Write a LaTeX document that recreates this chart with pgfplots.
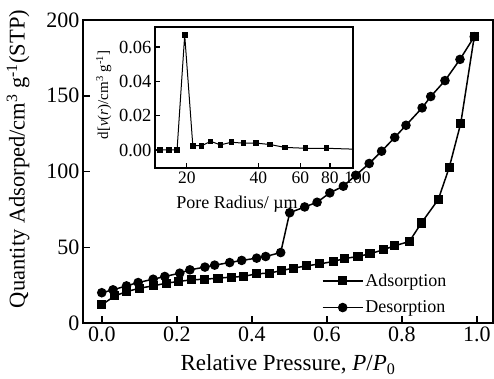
\documentclass[border=0pt]{standalone}
\usepackage{fontspec}
\setmainfont{Liberation Serif}
\usepackage{pgfplots}
\pgfplotsset{compat=1.18}
\usetikzlibrary{plotmarks}

\pgfplotstableread{
x y
0.0 12
0.035 17.9
0.066 20.7
0.101 23
0.137 24.5
0.172 26.3
0.204 27.4
0.239 28.5
0.275 28.9
0.31 29.6
0.346 30.3
0.377 30.7
0.413 32.5
0.446 32.9
0.479 34.6
0.51 36.2
0.546 37.7
0.581 39
0.617 40.6
0.648 42.6
0.683 43.9
0.715 45.7
0.75 48.3
0.781 51
0.82 53.8
0.852 66
0.897 81.5
0.926 102.4
0.957 131.8
0.993 189
}\adsorption

\pgfplotstableread{
x y
0.993 189
0.955 174
0.915 160
0.877 149.5
0.854 142
0.811 130.5
0.781 122.5
0.746 113.4
0.713 105.3
0.677 97.5
0.644 90.3
0.608 85.9
0.574 79.7
0.541 76.6
0.501 72.8
0.477 46.5
0.437 43.9
0.413 42.8
0.373 41.3
0.341 39.9
0.301 38.2
0.275 36.9
0.235 35.1
0.208 32.9
0.168 30.7
0.137 28.9
0.097 26.7
0.066 24.5
0.03 21.9
0.0 20
}\desorption

\pgfplotstableread{
x y
15.4 0.0
16.8 0.0
18.2 0.0
19.6 0.067
21.2 0.0025
23.1 0.0025
25.2 0.005
27.7 0.003
30.8 0.0045
34.6 0.004
39.1 0.004
44.8 0.0032
51.7 0.0015
63.2 0.001
77.3 0.001
}\pore

\begin{document}
\begin{tikzpicture}
\path[use as bounding box] (-83pt,-55pt) rectangle (411pt,323pt);
\begin{axis}[
  at={(0pt,0pt)}, anchor=south west,
  scale only axis, width=410pt, height=303pt,
  xmin=-0.05, xmax=1.043, ymin=0, ymax=200,
  xtick={0,0.2,0.4,0.6,0.8,1.0}, ytick={0,50,100,150,200},
  ticklabel style={font=\fontsize{22}{26}\selectfont},
  xticklabel style={/pgf/number format/.cd, fixed, fixed zerofill, precision=1},
  /pgf/number format/assume math mode=true,
  tick align=inside, xtick pos=bottom, ytick pos=left,
  major tick length=7pt,
  axis line style={line width=1.8pt},
  every tick/.style={line width=1.5pt, black},
  xlabel style={font=\fontsize{23}{28}\selectfont, at={(axis description cs:0.5,-0.157)}, anchor=base},
  ylabel style={font=\fontsize{22.5}{27}\selectfont, at={(axis description cs:-0.122,0.541)}, anchor=south},
  xlabel={Relative Pressure, \textit{P}/\textit{P}\textsubscript{0}},
  ylabel={Quantity Adsorped/cm\textsuperscript{3} g\textsuperscript{-1}(STP)},
  legend style={at={(0.575,0.015)}, anchor=south west, draw=none, fill=none,
    font=\fontsize{18}{21}\selectfont, row sep=9pt},
  legend cell align=left,
  legend image code/.code={\draw[mark repeat=2,mark phase=2,#1] plot coordinates {(0pt,0pt)(20pt,0pt)(40pt,0pt)};},
]
\addplot[black, line width=1.5pt, mark=square*, mark size=3.8pt] table[x=x,y=y] {\adsorption};
\addlegendentry{Adsorption}
\addplot[black, line width=1.5pt, mark=*, mark size=4pt] table[x=x,y=y] {\desorption};
\addlegendentry{Desorption}
\end{axis}

\begin{axis}[
  at={(72pt,155pt)}, anchor=south west,
  scale only axis, width=198pt, height=141pt,
  axis background/.style={fill=white},
  xmode=log, xmin=14.7, xmax=100, ymin=-0.0105, ymax=0.0717,
  xtick={20,40,60,80,100}, xticklabels={20,40,60,80,\hspace{9pt}100},
  minor xtick={},
  ytick={0,0.02,0.04,0.06},
  yticklabel style={font=\fontsize{18.5}{22}\selectfont, /pgf/number format/.cd, fixed, fixed zerofill, precision=2},
  xticklabel style={font=\fontsize{17.5}{21}\selectfont},
  scaled y ticks=false,
  /pgf/number format/assume math mode=true,
  tick align=inside, xtick pos=bottom, ytick pos=left,
  major tick length=5pt,
  axis line style={line width=1.3pt},
  every tick/.style={line width=1.2pt, black},
  xlabel style={font=\fontsize{18}{21}\selectfont, at={(axis description cs:0.414,-0.284)}, anchor=base},
  ylabel style={font=\fontsize{15}{18}\selectfont, at={(axis description cs:-0.202,0.518)}, anchor=south},
  xlabel={Pore Radius/ µm},
  ylabel={d[\textit{v}(\textit{r})/cm\textsuperscript{3} g\textsuperscript{-1}]},
]
\addplot[black, line width=1pt, mark=square*, mark size=2.3pt] table[x=x,y=y] {\pore};
\addplot[black, line width=1pt, forget plot] coordinates {(77.3,0.001) (100,0.0005)};
\end{axis}
\end{tikzpicture}
\end{document}
